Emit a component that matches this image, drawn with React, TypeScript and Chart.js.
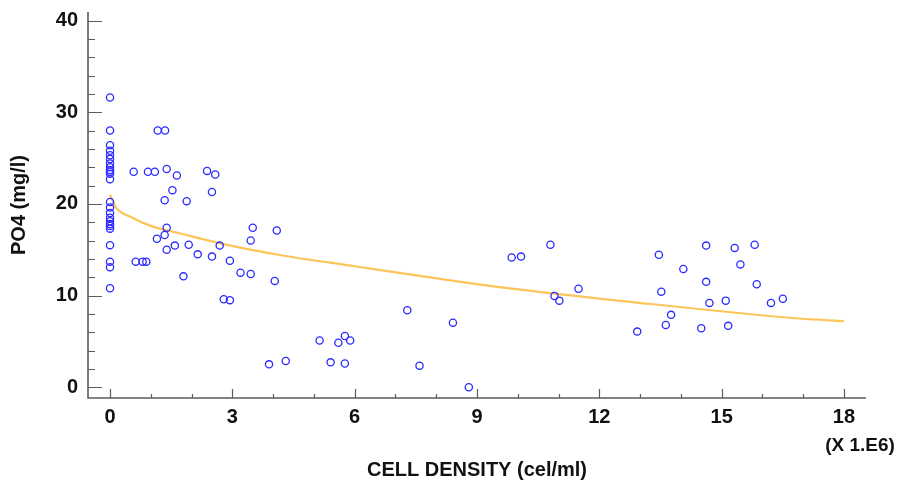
import React, { useEffect, useRef } from "react";
import { Chart, registerables } from "chart.js";

Chart.register(...registerables);

// Scatter observations: cell density (x 1e6 cel/ml) vs PO4 (mg/l)
const cellDensity = [
  0, 0, 0, 0, 0, 0, 0, 0, 0, 0, 0, 0, 0, 0, 0, 0, 0, 0, 0, 0, 0, 0, 0, 0,
  0.58, 0.93, 1.1, 1.17, 1.35, 1.39, 1.64, 2.38, 2.58, 1.53, 2.5, 1.34, 1.88,
  1.39, 1.34, 1.15, 1.59, 1.39, 1.93, 2.15, 2.5, 2.69, 2.94, 0.63, 0.8, 0.89,
  1.8, 3.2, 3.45, 3.5, 3.45, 4.09, 4.04, 2.79, 2.94,
  7.29, 8.41, 5.14, 5.76, 5.6, 5.89, 3.9, 4.31, 5.41, 5.76, 7.59, 8.8,
  10.8, 9.85, 10.08, 11.49, 10.9, 11.02,
  13.46, 14.62, 15.32, 15.81, 15.46, 14.06, 14.62, 15.86, 13.52, 14.7, 15.1,
  16.21, 16.5, 13.76, 13.63, 14.5, 15.16, 12.93,
];
const po4 = [
  31.6, 28.0, 26.4, 25.8, 25.3, 24.9, 24.4, 24.0, 23.7, 23.5, 23.3, 22.7,
  20.2, 19.6, 19.0, 18.5, 18.1, 17.8, 17.6, 17.3, 15.5, 13.7, 13.1, 10.8,
  23.5, 23.5, 23.5, 28.0, 28.0, 23.8, 23.1, 23.6, 23.2, 21.5, 21.3, 20.4, 20.3,
  17.4, 16.6, 16.2, 15.45, 15.0, 15.55, 14.5, 14.25, 15.45, 13.8, 13.7, 13.7, 13.7,
  12.1, 12.5, 12.35, 17.4, 16.0, 17.1, 11.6, 9.6, 9.5,
  8.4, 7.05, 5.1, 5.6, 4.85, 5.1, 2.5, 2.87, 2.72, 2.6, 2.36, 0.0,
  15.55, 14.15, 14.25, 10.75, 9.95, 9.45,
  14.46, 15.45, 15.2, 15.55, 13.4, 12.9, 11.5, 11.23, 10.43, 9.2, 9.45,
  9.2, 9.66, 7.9, 6.8, 6.43, 6.7, 6.07,
];

// Fitted model curve
const fitX = [0, 0.15, 0.5, 1, 1.7, 2.7, 4.2, 6, 8.6, 9.6, 12.7, 16.9, 18];
const fitY = [21.0, 19.6, 18.6, 17.6, 16.8, 15.7, 14.4, 13.2, 11.5, 10.9, 9.35, 7.5, 7.2];

const xMajorTicks = [0, 3, 6, 9, 12, 15, 18];
const xMinorTicks = [1, 2, 4, 5, 7, 8, 10, 11, 13, 14, 16, 17];
const yMajorTicks = [0, 10, 20, 30, 40];
const yMinorTicks = [2, 4, 6, 8, 12, 14, 16, 18, 22, 24, 26, 28, 32, 34, 36, 38];

const xTitle = "CELL DENSITY (cel/ml)";
const yTitle = "PO4 (mg/l)";
const xUnitNote = "(X 1.E6)";

const FONT_FAMILY = '"Liberation Sans", Arial, Helvetica, sans-serif';
const TEXT_COLOR = "#111111";
const AXIS_COLOR = "#5c5c5c";

const axisPlugin = {
  id: "axisPlugin",
  afterDatasetsDraw(chart: any) {
    const { ctx, chartArea, scales } = chart;
    const xs = scales.x;
    const ys = scales.y;
    const L = chartArea.left;
    const B = chartArea.bottom;
    ctx.save();
    ctx.strokeStyle = AXIS_COLOR;
    ctx.lineWidth = 1.6;
    ctx.beginPath();
    ctx.moveTo(L, chartArea.top);
    ctx.lineTo(L, B);
    ctx.lineTo(chartArea.right, B);
    ctx.stroke();

    ctx.lineWidth = 1.2;
    ctx.beginPath();
    yMajorTicks.forEach((v) => {
      const p = Math.round(ys.getPixelForValue(v)) + 0.5;
      ctx.moveTo(L, p);
      ctx.lineTo(L + 14, p);
    });
    yMinorTicks.forEach((v) => {
      const p = Math.round(ys.getPixelForValue(v)) + 0.5;
      ctx.moveTo(L, p);
      ctx.lineTo(L + 7, p);
    });
    xMajorTicks.forEach((v) => {
      const p = Math.round(xs.getPixelForValue(v)) + 0.5;
      ctx.moveTo(p, B);
      ctx.lineTo(p, B - 9);
    });
    xMinorTicks.forEach((v) => {
      const p = Math.round(xs.getPixelForValue(v)) + 0.5;
      ctx.moveTo(p, B);
      ctx.lineTo(p, B - 4);
    });
    ctx.stroke();

    ctx.fillStyle = TEXT_COLOR;
    ctx.font = `bold 19px ${FONT_FAMILY}`;
    ctx.textAlign = "center";
    ctx.textBaseline = "alphabetic";
    ctx.fillText(xUnitNote, xs.getPixelForValue(18) + 16, B + 53);
    ctx.restore();
  },
};

export default function App() {
  const canvasRef = useRef<HTMLCanvasElement | null>(null);

  useEffect(() => {
    document.body.style.margin = "0";
    const canvas = canvasRef.current;
    if (!canvas) return;

    const scatterData = cellDensity.map((x, i) => ({ x, y: po4[i] }));
    const fitData = fitX.map((x, i) => ({ x, y: fitY[i] }));
    const tickFont = { family: FONT_FAMILY, size: 20, weight: "bold" as const };

    const chart = new Chart(canvas, {
      type: "scatter",
      data: {
        datasets: [
          {
            type: "scatter",
            data: scatterData,
            pointStyle: "circle",
            pointRadius: 3.6,
            pointBorderWidth: 1.3,
            borderColor: "#2b2bff",
            backgroundColor: "rgba(0,0,0,0)",
            pointBackgroundColor: "rgba(0,0,0,0)",
            pointBorderColor: "#2b2bff",
          } as any,
          {
            type: "line",
            data: fitData,
            borderColor: "#fbc55a",
            borderWidth: 2.2,
            pointRadius: 0,
            fill: false,
            cubicInterpolationMode: "monotone",
          } as any,
        ],
      },
      options: {
        animation: false,
        responsive: false,
        devicePixelRatio: 1,
        layout: { padding: { left: 0, right: 41, top: 12, bottom: 0 } },
        plugins: {
          legend: { display: false },
          tooltip: { enabled: false },
          title: { display: false },
        },
        scales: {
          x: {
            type: "linear",
            position: "bottom",
            min: -0.54,
            max: 18.54,
            grid: { display: false, drawTicks: false },
            border: { display: false },
            afterBuildTicks: (s: any) => {
              s.ticks = xMajorTicks.map((v) => ({ value: v }));
            },
            afterFit: (s: any) => {
              s.height = 85;
              s.paddingLeft = 0;
              s.paddingRight = 0;
            },
            ticks: {
              autoSkip: false,
              maxRotation: 0,
              padding: 7,
              color: TEXT_COLOR,
              font: tickFont,
              callback: (v: any) => String(v),
            },
            title: {
              display: true,
              text: xTitle,
              color: TEXT_COLOR,
              font: tickFont,
              padding: { top: 0, bottom: 1 },
            },
          },
          y: {
            type: "linear",
            position: "left",
            min: -1.17,
            max: 40.93,
            grid: { display: false, drawTicks: false },
            border: { display: false },
            afterBuildTicks: (s: any) => {
              s.ticks = yMajorTicks.map((v) => ({ value: v }));
            },
            afterFit: (s: any) => {
              s.width = 88;
              s.paddingTop = 0;
              s.paddingBottom = 0;
            },
            ticks: {
              autoSkip: false,
              padding: 10,
              color: TEXT_COLOR,
              font: tickFont,
              callback: (v: any) => String(v),
            },
            title: {
              display: true,
              text: yTitle,
              color: TEXT_COLOR,
              font: tickFont,
              padding: { top: 7, bottom: 0 },
            },
          },
        },
      },
      plugins: [axisPlugin],
    });

    return () => {
      chart.destroy();
    };
  }, []);

  return (
    <div style={{ width: 907, height: 483, background: "#ffffff" }}>
      <canvas ref={canvasRef} width={907} height={483} />
    </div>
  );
}
